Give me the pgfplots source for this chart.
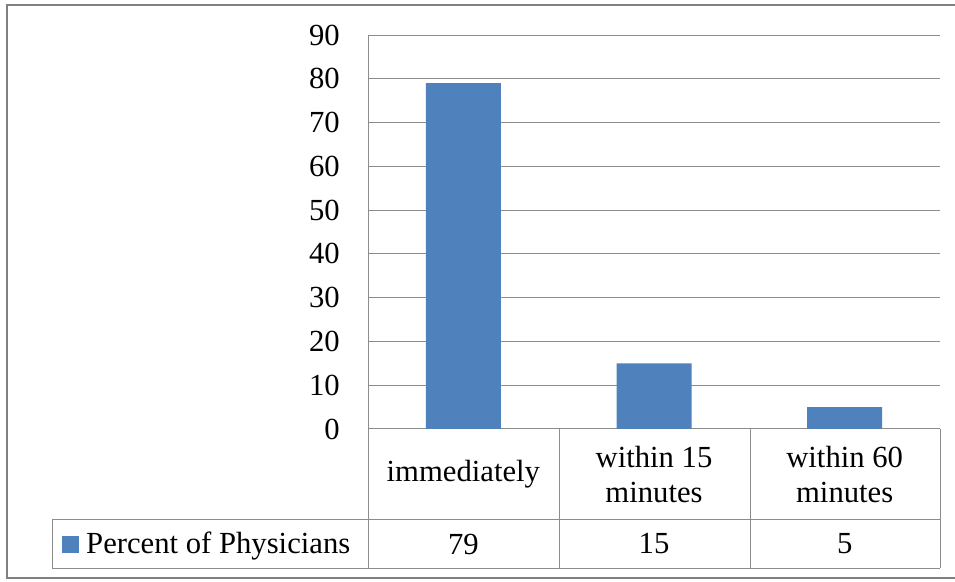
\documentclass[border=0pt]{standalone}
\usepackage{pgfplots}
\pgfplotsset{compat=1.18}
\usepackage{pgfplotstable}
\usepackage{fontspec}
\setmainfont{Liberation Serif}
\definecolor{barblue}{RGB}{79,129,189}
\definecolor{gridgray}{RGB}{140,140,140}
\definecolor{framegray}{RGB}{128,128,128}
\pgfplotstableread{
x value
0 79
1 15
2 5
}\datatable
\begin{document}
\fontsize{23}{26}\selectfont
\begin{tikzpicture}[x=0.75pt,y=0.75pt]
\useasboundingbox (0,0) rectangle (955,581);
\begin{axis}[
  at={(276pt,114pt)}, anchor=south west,
  scale only axis, width=429pt, height=295.5pt,
  xmin=-0.5, xmax=2.5, ymin=0, ymax=90,
  enlargelimits=false, clip=false,
  axis x line=bottom, axis y line=left,
  axis line style={draw=gridgray, line width=0.75pt, -},
  major tick length=0pt,
  ytick={0,10,...,90},
  ymajorgrids, grid style={draw=gridgray, line width=0.75pt},
  xtick={0,1,2},
  xticklabels={immediately, within 15\\minutes, within 60\\minutes},
  xticklabel style={align=center, anchor=center, yshift=-34pt, inner sep=0pt},
  yticklabel style={anchor=east, inner sep=0pt, xshift=-21pt},
  /pgf/number format/assume math mode=true,
  legend style={at={(-0.535,-0.294)}, anchor=west, draw=none, fill=none,
    inner sep=0pt, column sep=5.25pt, nodes={inner sep=0pt}},
  legend image code/.code={\fill[#1] (0pt,-5.9pt) rectangle (12.75pt,6.9pt);},
]
\addplot[ybar, bar width=56.25pt, fill=barblue, draw=none] table[x=x,y=value]{\datatable};
\addlegendentry{Percent of Physicians}
\addplot[draw=none, mark=none, forget plot, nodes near coords, point meta=explicit,
  nodes near coords style={anchor=center, yshift=-86.25pt, inner sep=0pt, text=black}]
  table[x=x, y expr=0, meta=value]{\datatable};
\end{axis}
\begin{scope}[draw=gridgray, line width=0.75pt]
\draw (368,152) -- (368,13);
\draw (559,152) -- (559,13);
\draw (750,152) -- (750,13);
\draw (940,152) -- (940,13);
\draw (52,61) -- (940,61);
\draw (52,13) -- (940,13);
\draw (52,61) -- (52,13);
\end{scope}
\draw[framegray, line width=1.5pt] (7,576) rectangle (962,3);
\end{tikzpicture}
\end{document}
